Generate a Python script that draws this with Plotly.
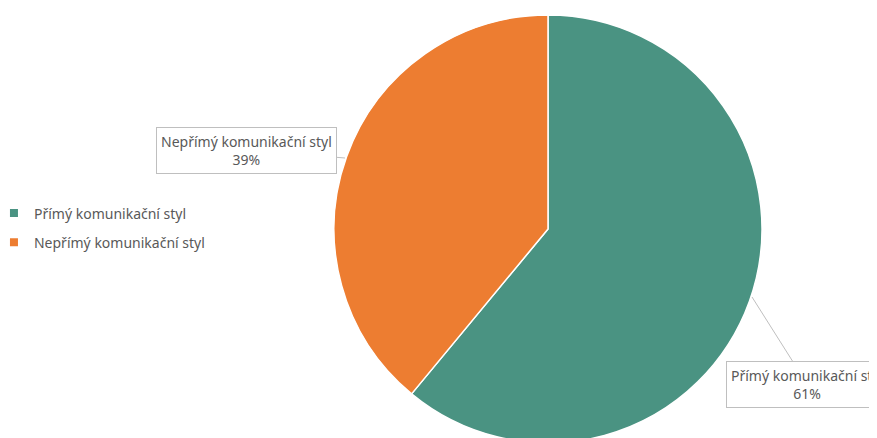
import plotly.graph_objects as go

categories = ["Přímý komunikační styl", "Nepřímý komunikační styl"]
values = [61, 39]
colors = ["#4A9382", "#ED7D31"]

W, H = 877, 438
OFF = 8  # page body margin offset
cx, cy, r = 548 - OFF, 229 - OFF, 214

fig = go.Figure()
fig.add_trace(go.Pie(
    labels=categories,
    values=values,
    sort=False,
    direction="clockwise",
    rotation=0,
    marker=dict(colors=colors, line=dict(color="white", width=1.5)),
    textinfo="none",
    hoverinfo="label+percent",
    showlegend=False,
    domain=dict(x=[(cx - r) / W, (cx + r) / W],
                y=[1 - (cy + r) / H, 1 - (cy - r) / H]),
))

# legend entries
for i, (name, col) in enumerate(zip(categories, colors)):
    fig.add_trace(go.Scatter(
        x=[None], y=[None], mode="markers", name=name,
        legendgroup=str(i),
        marker=dict(symbol="square", size=8, color=col),
        hoverinfo="skip",
    ))

font = dict(family="Noto Sans, Open Sans, sans-serif", size=14, color="#595959")

def callout(idx, tip, box):
    tx, ty = tip[0] - OFF, tip[1] - OFF
    bx, by = box[0] - OFF, box[1] - OFF
    fig.add_annotation(
        xref="paper", yref="paper", x=tx / W, y=1 - ty / H,
        ax=bx - tx, ay=by - ty, axref="pixel", ayref="pixel",
        text=f"{categories[idx]}<br>{values[idx]}%",
        showarrow=True, arrowhead=0, arrowwidth=1, arrowcolor="#BFBFBF",
        bordercolor="#BFBFBF", borderwidth=1, borderpad=4,
        bgcolor="white", font=font, align="center",
    )

callout(1, (345, 158), (246, 150))
callout(0, (752, 297), (807, 384))

fig.update_layout(
    width=W, height=H,
    margin=dict(l=0, r=0, t=0, b=0, autoexpand=False),
    paper_bgcolor="white", plot_bgcolor="white",
    xaxis=dict(visible=False), yaxis=dict(visible=False),
    showlegend=True,
    legend=dict(x=-0.016, xanchor="left", y=1 - (228 - OFF) / H, yanchor="middle",
                font=font, bgcolor="rgba(0,0,0,0)", tracegroupgap=8,
                itemwidth=30),
)

fig.write_html("out.html")
